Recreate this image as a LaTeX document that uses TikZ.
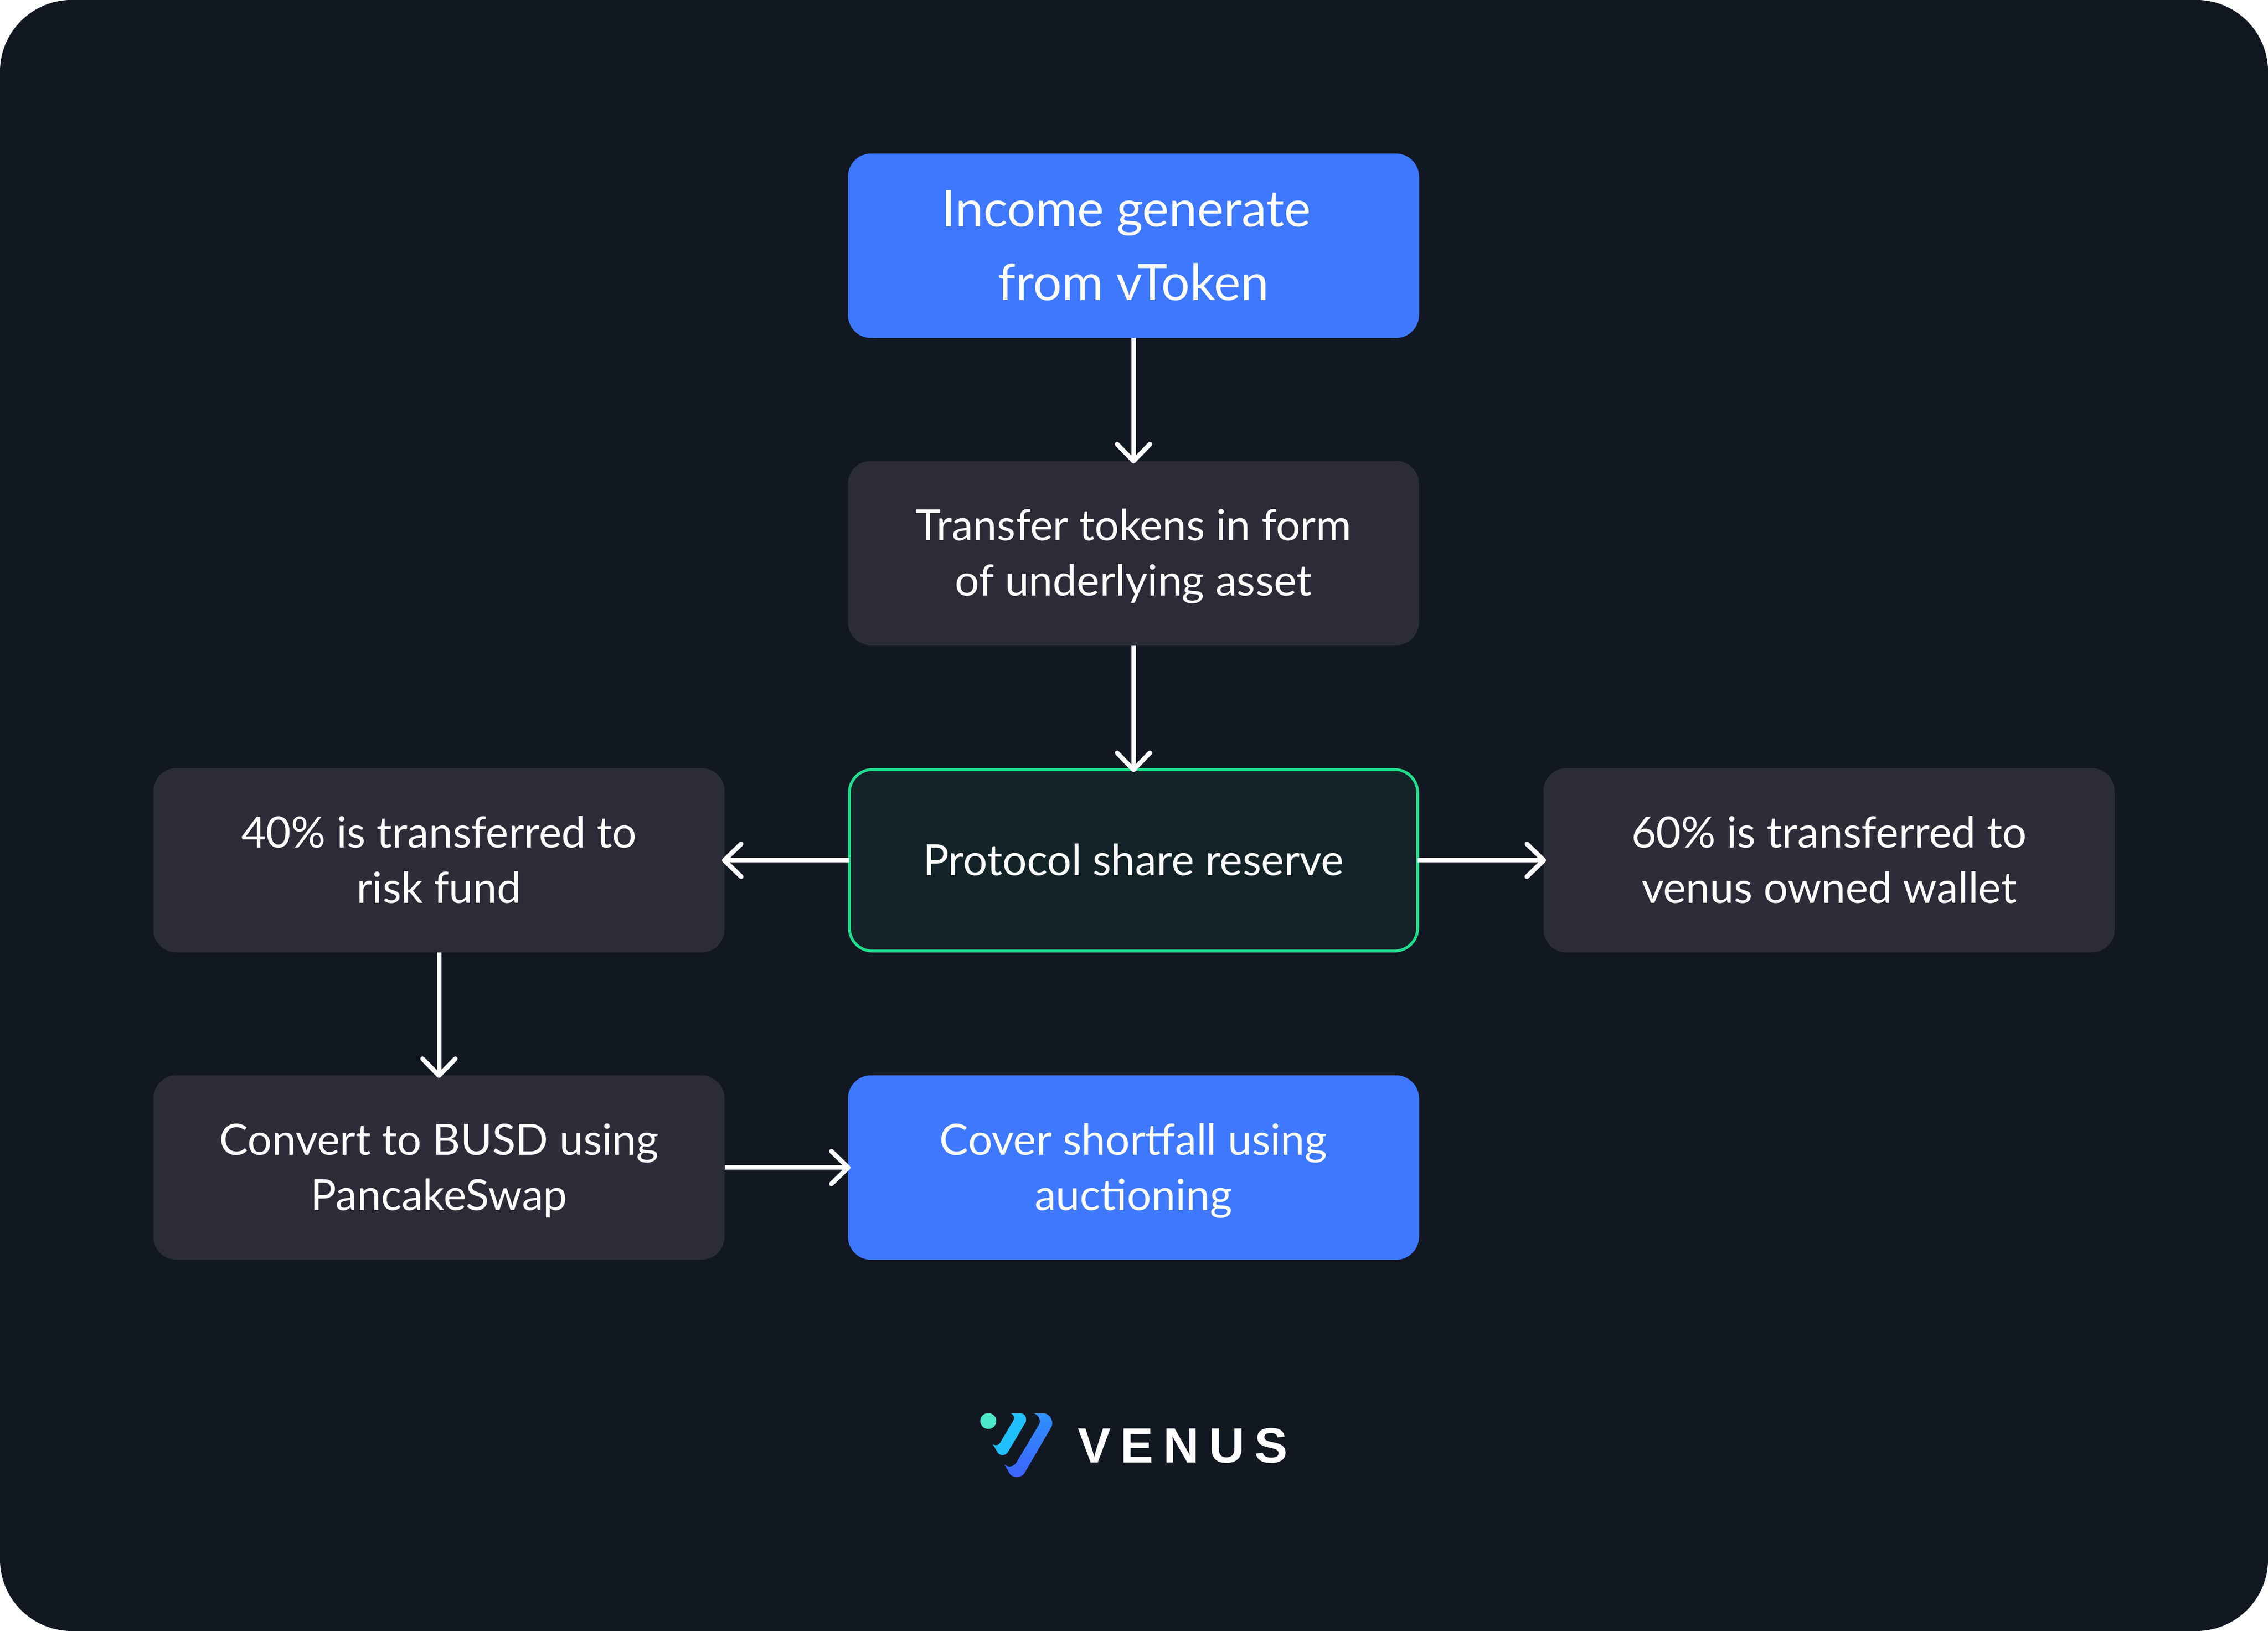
\documentclass[tikz,border=0pt]{standalone}
\usepackage{fontspec}
\usepackage{tikz}
\usetikzlibrary{%
  positioning
 ,arrows.meta
}
\setmainfont{Lato}
\newfontfamily\logofont[LetterSpace=20]{Liberation Sans Bold}
\definecolor{bgdark}{HTML}{121822}
\definecolor{boxgrey}{HTML}{2B2C38}
\definecolor{boxblue}{HTML}{3D78FF}
\definecolor{boxgreen}{HTML}{1FDE8E}
\definecolor{boxteal}{HTML}{142328}
\definecolor{logodot}{HTML}{4CE8C8}
\definecolor{logocyan}{HTML}{20C0FF}
\definecolor{logotop}{HTML}{2E90FF}
\definecolor{logolow}{HTML}{3D62FF}
\newcommand{\tstrut}{\rule{0pt}{26pt}}
\tikzstyle{flow}=[node distance=6cm,on grid,text=white]
\tikzstyle{st}=[rectangle,rounded corners=0.45cm,minimum width=11.15cm,minimum height=3.6cm,inner sep=0pt,outer sep=0pt,align=center,font=\fontsize{23.9}{30.5}\selectfont]
\tikzstyle{grey}=[st,fill=boxgrey]
\tikzstyle{blue}=[st,fill=boxblue]
\tikzstyle{arr}=[draw=white,line width=0.09cm,shorten >=-0.05cm,-{Straight Barb[length=0.33cm,width=0.64cm,round]}]
\begin{document}
\begin{tikzpicture}[flow]
      \fill[bgdark,rounded corners=1.4cm] (0,0) rectangle (44.28,31.85);
      \useasboundingbox (0,0) rectangle (44.28,31.85);
      \node[blue,font=\fontsize{28}{41}\selectfont] (income) at (22.13,27.05) {\rule{0pt}{32pt}Income generate\hspace*{0.28cm}\\\strut from vToken};
      \node[grey] (trans) [below of=income] {\tstrut Transfer tokens in form\\\strut of underlying asset};
      \node[st,fill=boxteal,draw=boxgreen,line width=0.055cm,minimum width=11.095cm,minimum height=3.545cm] (reserve) [below of=trans] {\tstrut Protocol share reserve\strut};
      \node[grey] (risk) [left of=reserve,node distance=13.56cm] {\tstrut 40\% is transferred to\\\strut risk fund};
      \node[grey] (wallet) [right of=reserve,node distance=13.58cm] {\tstrut 60\% is transferred to\\\strut venus owned wallet};
      \node[grey] (busd) [below of=risk] {\tstrut Convert to BUSD using\\\strut PancakeSwap};
      \node[blue] (cover) [below of=reserve] {\tstrut Cover shortfall using\\\strut auctioning};
      \path[arr]
        (income) edge (trans)
        (trans) edge (reserve)
        (reserve) edge (risk)
        (reserve) edge (wallet)
        (risk) edge (busd)
        (busd) edge (cover);
      % logo
      \fill[logodot] (19.295,4.10) circle (0.155cm);
      \fill[logocyan]
        (19.74,4.25) -- (19.93,4.25) .. controls (20.03,4.25) and (20.05,4.12) .. (20.02,4.07)
        -- (19.68,3.50) .. controls (19.62,3.41) and (19.52,3.41) .. (19.47,3.50)
        -- (19.38,3.65) .. controls (19.44,3.61) and (19.50,3.62) .. (19.53,3.68)
        -- (19.79,4.12) .. controls (19.81,4.16) and (19.80,4.22) .. cycle;
      \shade[top color=logotop,bottom color=logolow]
        (20.18,4.25) -- (20.375,4.25) .. controls (20.50,4.25) and (20.58,4.08) .. (20.53,3.99)
        -- (20.00,3.08) .. controls (19.94,2.98) and (19.76,2.98) .. (19.71,3.08)
        -- (19.61,3.25) .. controls (19.68,3.19) and (19.78,3.20) .. (19.84,3.28)
        -- (20.285,4.03) .. controls (20.33,4.10) and (20.28,4.23) .. cycle;
      \node[anchor=west,inner sep=0pt,outer sep=0pt,font=\logofont\fontsize{27.5}{27.5}\selectfont] (venus) at (21.04,3.62) {VENUS};
    \end{tikzpicture}
\end{document}
